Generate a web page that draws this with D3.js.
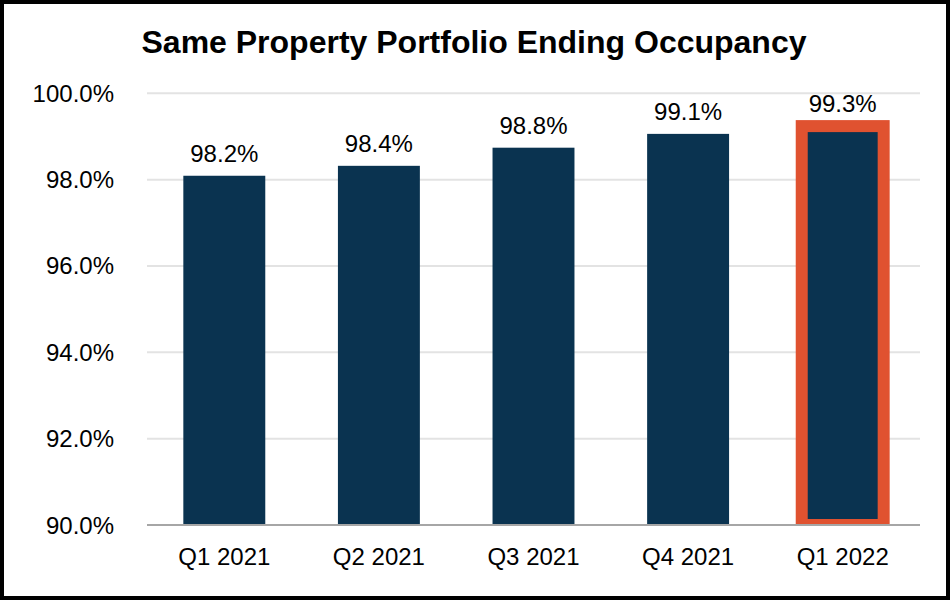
<!DOCTYPE html>
<html>
<head>
<meta charset="utf-8">
<script src="https://cdn.jsdelivr.net/npm/d3@7"></script>
<style>
  body { margin: 0; background: #fff; }
  text { font-family: "Liberation Sans", Arial, sans-serif; fill: #000; }
</style>
</head>
<body>
<div id="chart"></div>
<script>
var quarters = ["Q1 2021", "Q2 2021", "Q3 2021", "Q4 2021", "Q1 2022"];
var occupancy = [98.09, 98.32, 98.74, 99.06, 99.24];
var barLabels = ["98.2%", "98.4%", "98.8%", "99.1%", "99.3%"];
var yTicks = [90, 92, 94, 96, 98, 100];
var highlight = "Q1 2022";

var width = 950, height = 600;
var plotLeft = 147, plotRight = 920, plotTop = 93.3, plotBottom = 525;

var svg = d3.select("#chart").append("svg")
  .attr("width", width)
  .attr("height", height);

svg.append("rect")
  .attr("x", 2).attr("y", 2)
  .attr("width", width - 4).attr("height", height - 4)
  .attr("fill", "#fff")
  .attr("stroke", "#000")
  .attr("stroke-width", 4);

var x = d3.scaleBand()
  .domain(quarters)
  .range([plotLeft, plotRight])
  .paddingInner(0.47)
  .paddingOuter(0.235);

var y = d3.scaleLinear()
  .domain([90, 100])
  .range([plotBottom, plotTop]);

svg.append("text")
  .attr("x", 474)
  .attr("y", 53)
  .attr("text-anchor", "middle")
  .style("font-size", "32px")
  .style("font-weight", "bold")
  .text("Same Property Portfolio Ending Occupancy");

// gridlines
svg.append("g").selectAll("line")
  .data(yTicks.slice(1))
  .enter().append("line")
  .attr("x1", plotLeft).attr("x2", plotRight)
  .attr("y1", function(d) { return y(d); })
  .attr("y2", function(d) { return y(d); })
  .attr("stroke", "#e3e3e3")
  .attr("stroke-width", 2);

// y tick labels
svg.append("g").selectAll("text")
  .data(yTicks)
  .enter().append("text")
  .attr("x", 114)
  .attr("y", function(d) { return y(d) + 8.5; })
  .attr("text-anchor", "end")
  .style("font-size", "24px")
  .text(function(d) { return d3.format(".1f")(d) + "%"; });

svg.append("clipPath").attr("id", "plotclip")
  .append("rect")
  .attr("x", 0).attr("y", 0)
  .attr("width", width).attr("height", plotBottom);

svg.append("g").attr("clip-path", "url(#plotclip)")
  .selectAll("rect")
  .data(occupancy)
  .enter().append("rect")
  .attr("x", function(d, i) { return x(quarters[i]); })
  .attr("y", function(d) { return y(d); })
  .attr("width", x.bandwidth())
  .attr("height", function(d) { return plotBottom - y(d); })
  .attr("fill", "#0a3350")
  .attr("stroke", function(d, i) { return quarters[i] == highlight ? "#e05230" : "none"; })
  .attr("stroke-width", 12);

// axis line
svg.append("line")
  .attr("x1", plotLeft).attr("x2", plotRight)
  .attr("y1", plotBottom).attr("y2", plotBottom)
  .attr("stroke", "#a6a6a6")
  .attr("stroke-width", 2);

// value labels
svg.append("g").selectAll("text")
  .data(occupancy)
  .enter().append("text")
  .attr("x", function(d, i) { return x(quarters[i]) + x.bandwidth() / 2; })
  .attr("y", function(d) { return y(d) - 14; })
  .attr("text-anchor", "middle")
  .style("font-size", "24px")
  .text(function(d, i) { return barLabels[i]; });

// category labels
svg.append("g").selectAll("text")
  .data(quarters)
  .enter().append("text")
  .attr("x", function(d) { return x(d) + x.bandwidth() / 2; })
  .attr("y", 565)
  .attr("text-anchor", "middle")
  .style("font-size", "24px")
  .text(function(d) { return d; });
</script>
</body>
</html>
